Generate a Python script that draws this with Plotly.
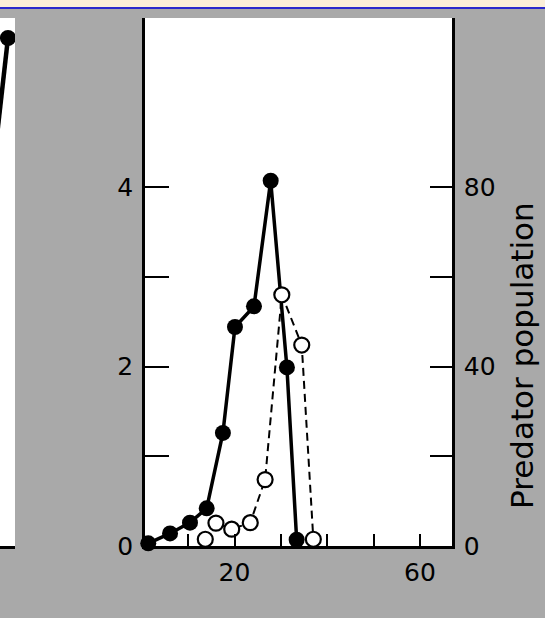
import plotly.graph_objects as go

# Prey (filled circles), left axis
prey_x = [1.4, 6.1, 10.4, 14.0, 17.5, 20.1, 24.2, 27.8, 31.3, 33.4]
prey_y = [0.03, 0.14, 0.26, 0.42, 1.26, 2.44, 2.67, 4.07, 1.99, 0.07]

# Predator (open circles), right axis
pred_x = [13.7, 16.0, 19.4, 23.4, 26.6, 30.2, 34.5, 37.0]
pred_y = [1.5, 5.1, 3.75, 5.2, 14.8, 56.0, 44.8, 1.5]

# Neighbouring (cut-off) panel at the far left
left_x = [52.0, 57.7]
left_y = [3.01, 5.66]

x_tickvals = [10, 20, 30, 40, 50, 60]
x_ticktext = ["", "20", "", "", "", "60"]
y_tickvals = [0, 1, 2, 3, 4]
y_ticktext = ["0", "", "2", "", "4"]
y2_tickvals = [0, 20, 40, 60, 80]
y2_ticktext = ["0", "", "40", "", "80"]
y2_title = "Predator population"

W, H = 545, 618
x0d, x1d = 145 / W, 452 / W
y0d, y1d = (H - 546) / H, (H - 18) / H

font = dict(family="DejaVu Sans", size=25, color="black")

fig = go.Figure()

fig.add_trace(go.Scatter(
    x=pred_x, y=pred_y, yaxis="y2", mode="lines+markers",
    line=dict(color="black", width=2, dash="8px,5px"),
    marker=dict(symbol="circle", size=15, color="white",
                line=dict(color="black", width=2.2)),
    showlegend=False, cliponaxis=False))

fig.add_trace(go.Scatter(
    x=prey_x, y=prey_y, mode="lines+markers",
    line=dict(color="black", width=3.5),
    marker=dict(symbol="circle", size=16, color="black"),
    showlegend=False, cliponaxis=False))

fig.add_trace(go.Scatter(
    x=left_x, y=left_y, xaxis="x3", yaxis="y3", mode="lines+markers",
    line=dict(color="black", width=4.5),
    marker=dict(symbol="circle", size=16, color="black"),
    showlegend=False, cliponaxis=True))

fig.update_layout(
    width=W, height=H,
    margin=dict(l=0, r=0, t=0, b=0),
    paper_bgcolor="#a9a9a9",
    plot_bgcolor="white",
    font=font,
    xaxis=dict(domain=[x0d, x1d], range=[0.7, 66.9], showgrid=False,
               zeroline=False, showline=True, linecolor="black", linewidth=2.5,
               ticks="inside", ticklen=12, tickwidth=2, tickcolor="black",
               tickvals=x_tickvals, ticktext=x_ticktext,
               ticklabelstandoff=2, automargin=False, fixedrange=True),
    yaxis=dict(domain=[y0d, y1d], range=[0, 5.883], showgrid=False,
               zeroline=False, showline=True, linecolor="black", linewidth=2.5,
               ticks="inside", ticklen=24, tickwidth=2, tickcolor="black",
               tickvals=y_tickvals, ticktext=y_ticktext,
               ticklabelstandoff=4, automargin=False),
    yaxis2=dict(overlaying="y", side="right", range=[0, 117.7],
                showgrid=False, zeroline=False, showline=True,
                linecolor="black", linewidth=2.5,
                ticks="inside", ticklen=22, tickwidth=2, tickcolor="black",
                tickvals=y2_tickvals, ticktext=y2_ticktext,
                ticklabelstandoff=4, automargin=False),
    xaxis3=dict(domain=[0, 15 / W], range=[56, 59.2], showgrid=False,
                zeroline=False, showline=True, linecolor="black", linewidth=2.5,
                showticklabels=False, ticks="", anchor="y3"),
    yaxis3=dict(domain=[y0d, y1d], range=[0, 5.883], showgrid=False,
                zeroline=False, showline=False, showticklabels=False,
                ticks="", anchor="x3"),
    annotations=[
        dict(text=y2_title, xref="paper", yref="paper",
             x=522 / W, y=(H - 356) / H, xanchor="center", yanchor="middle",
             textangle=-90, showarrow=False,
             font=dict(family="DejaVu Sans", size=31, color="black")),
    ],
    shapes=[
        dict(type="rect", xref="paper", yref="paper", x0=0, x1=1,
             y0=(H - 7) / H, y1=1, fillcolor="#fbefd8", line=dict(width=0),
             layer="below"),
        dict(type="rect", xref="paper", yref="paper", x0=0, x1=1,
             y0=(H - 9) / H, y1=(H - 7) / H, fillcolor="#2a2acc",
             line=dict(width=0), layer="below"),
    ],
)

fig.write_html("out.html", config={"displayModeBar": False},
               post_script="document.body.style.margin='0';document.body.style.overflow='hidden';")
